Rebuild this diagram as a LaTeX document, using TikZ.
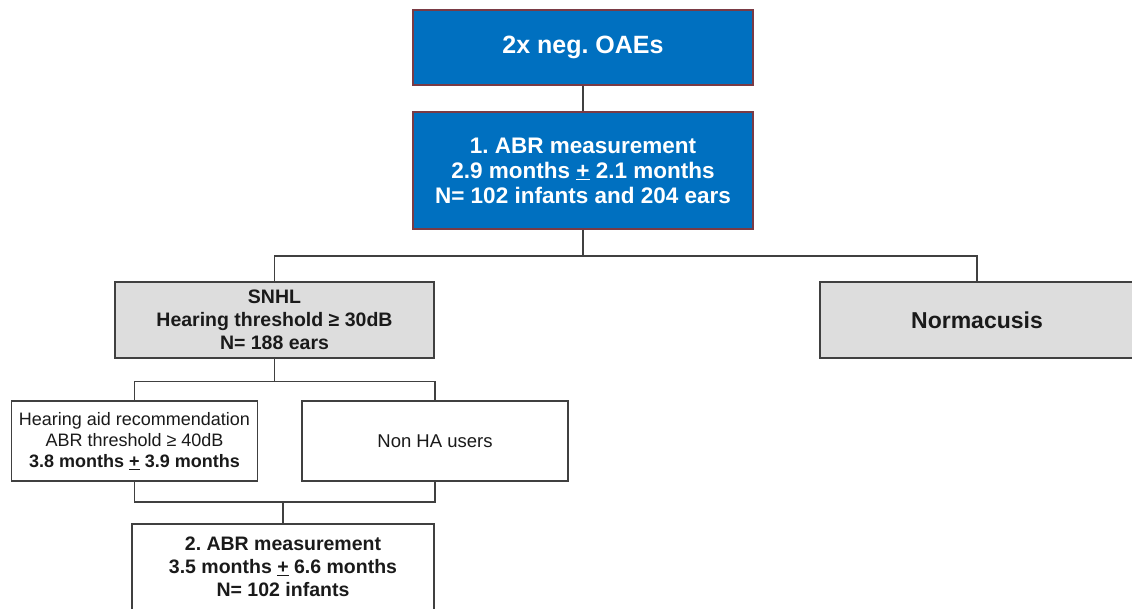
\documentclass[tikz,border=0pt]{standalone}
\usepackage{fontspec}
\setmainfont{Liberation Sans}
\frenchspacing
\definecolor{boxblue}{HTML}{0070C0}
\definecolor{blueedge}{HTML}{7A3B45}
\definecolor{boxgray}{HTML}{DDDDDD}
\definecolor{edgegray}{HTML}{404040}
\definecolor{txt}{HTML}{1A1A1A}
\begin{document}
\begin{tikzpicture}[x=1pt,y=-1pt,
  base/.style={rectangle,inner sep=0pt,align=center,line width=1.4pt},
  bluebox/.style={base,fill=boxblue,draw=blueedge,text=white},
  graybox/.style={base,fill=boxgray,draw=edgegray,text=txt},
  whitebox/.style={base,fill=white,draw=edgegray,text=txt},
  conn/.style={draw=edgegray,line width=1.5pt}]
\useasboundingbox (0,0) rectangle (1132,608);
\fill[white] (0,0) rectangle (1132,608);

\node[bluebox,minimum width=340pt,minimum height=75pt,
  font=\fontsize{25}{28}\selectfont\bfseries] (oae) at (583,47.5) {2x neg. OAEs};
\node[bluebox,minimum width=340pt,minimum height=117pt,
  font=\fontsize{22.5}{25}\selectfont\bfseries] (abr1) at (583,170.5)
  {1. ABR measurement\\2.9 months \underline{+} 2.1 months\\N= 102 infants and 204 ears};

\node[graybox,minimum width=319pt,minimum height=76pt,
  font=\fontsize{19.5}{23}\selectfont\bfseries] (snhl) at (274.5,320)
  {SNHL\\Hearing threshold ≥ 30dB\\N= 188 ears};
\node[graybox,minimum width=314pt,minimum height=76pt,
  font=\fontsize{23}{26}\selectfont\bfseries] (norm) at (977,320) {Normacusis};

\node[whitebox,minimum width=246pt,minimum height=80pt,
  font=\fontsize{18}{21}\selectfont] (ha) at (134.5,441)
  {Hearing aid recommendation\\ABR threshold ≥ 40dB\\\textbf{3.8 months \underline{+} 3.9 months}};
\node[whitebox,minimum width=266pt,minimum height=80pt,
  font=\fontsize{18.5}{21}\selectfont] (nonha) at (435,441) {Non HA users};

\node[whitebox,minimum width=302pt,minimum height=86pt,
  font=\fontsize{19.5}{23}\selectfont\bfseries] (abr2) at (283,567)
  {2. ABR measurement\\3.5 months \underline{+} 6.6 months\\N= 102 infants};

\draw[conn] (oae.south) -- (abr1.north);
\coordinate (j1) at (583,256);
\draw[conn] (abr1.south) -- (j1);
\draw[conn] (snhl.north) |- (j1) -| (norm.north);

\coordinate (j2) at (274.5,381.5);
\draw[conn] (snhl.south) -- (j2);
\draw[conn] (ha.north) |- (j2) -| (nonha.north);

\coordinate (j3) at (283,502);
\draw[conn] (ha.south) |- (j3) -| (nonha.south);
\draw[conn] (j3) -- (abr2.north);
\end{tikzpicture}
\end{document}
